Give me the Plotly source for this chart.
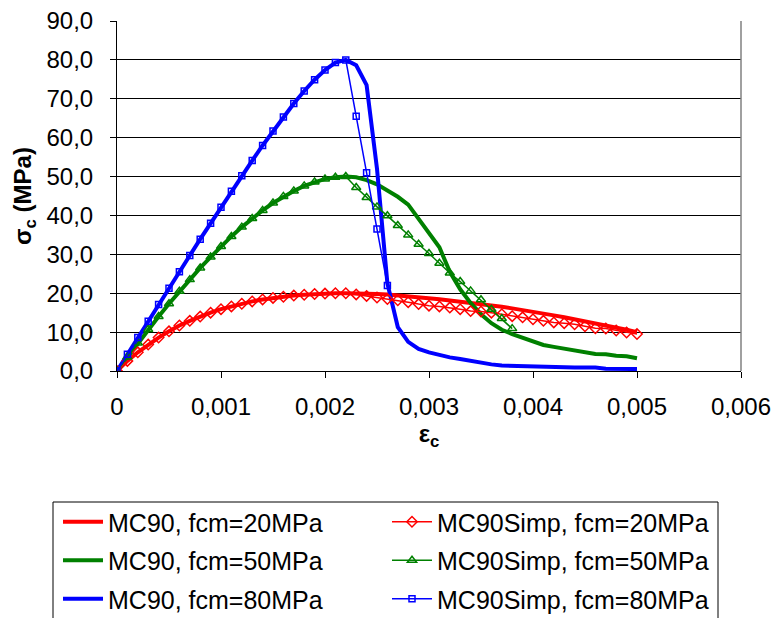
import plotly.graph_objects as go

# strain grid (0 .. 0.005, step 0.0001)
eps = [0.0, 0.0001, 0.0002, 0.0003, 0.0004, 0.0005, 0.0006, 0.0007, 0.0008, 0.0009,
       0.0010, 0.0011, 0.0012, 0.0013, 0.0014, 0.0015, 0.0016, 0.0017, 0.0018, 0.0019,
       0.0020, 0.0021, 0.0022, 0.0023, 0.0024, 0.0025, 0.0026, 0.0027, 0.0028, 0.0029,
       0.0030, 0.0031, 0.0032, 0.0033, 0.0034, 0.0035, 0.0036, 0.0037, 0.0038, 0.0039,
       0.0040, 0.0041, 0.0042, 0.0043, 0.0044, 0.0045, 0.0046, 0.0047, 0.0048, 0.0049,
       0.0050]

mc90_20 = [0, 2.6, 4.8, 6.8, 8.6, 10.2, 11.7, 12.9, 14.0, 15.0, 15.9, 16.6, 17.3, 17.9, 18.4,
           18.8, 19.1, 19.4, 19.6, 19.8, 19.9, 20.0, 20.0,
           19.98, 19.9, 19.8, 19.65, 19.45, 19.25, 19.0, 18.75, 18.45, 18.15, 17.85, 17.5,
           17.2, 16.85, 16.5, 16.1, 15.7, 15.3, 14.8, 14.3, 13.8, 13.3, 12.8, 12.3, 11.7,
           11.1, 10.6, 10.0]
simp_20 = [0, 2.6, 4.8, 6.8, 8.6, 10.2, 11.7, 12.9, 14.0, 15.0, 15.9, 16.6, 17.3, 17.9, 18.4,
           18.8, 19.1, 19.4, 19.6, 19.8, 19.9, 20.0, 20.0,
           19.7, 19.3, 18.9, 18.5, 18.2, 17.7, 17.2, 16.8, 16.6, 16.3, 15.9, 15.4, 15.3,
           15.0, 14.6, 14.1, 13.8, 13.3, 12.9, 12.5, 12.3, 12.0, 11.5, 11.0, 10.9, 10.4,
           9.9, 9.5]
mc90_50 = [0, 3.6, 7.2, 10.7, 14.0, 17.3, 20.5, 23.5, 26.5, 29.3, 32.0, 34.6, 37.0, 39.2,
           41.3, 43.2, 44.9, 46.3, 47.6, 48.6, 49.4, 49.8, 50.0,
           49.8, 49.1, 48.0, 46.5, 44.8, 42.8, 39.2, 35.5, 31.8, 25.5, 21.0, 17.5, 14.6,
           12.3, 10.6, 9.5, 8.5, 7.5, 6.7, 6.2, 5.8, 5.4, 5.0, 4.4, 4.3, 3.9, 3.8, 3.3]
simp_50 = [0, 3.6, 7.2, 10.7, 14.0, 17.3, 20.5, 23.5, 26.5, 29.3, 32.0, 34.6, 37.0, 39.2,
           41.3, 43.2, 44.9, 46.3, 47.6, 48.6, 49.4, 49.8, 50.0,
           47.2, 44.6, 42.2, 39.9, 37.4, 35.0, 32.6, 30.2, 27.7, 25.2, 23.0, 20.6, 18.3,
           15.9, 13.5, 10.9]
mc90_80 = [0, 4.3, 8.6, 12.8, 17.1, 21.3, 25.5, 29.7, 33.9, 38.0, 42.1, 46.2, 50.2, 54.1,
           58.0, 61.7, 65.3, 68.8, 72.0, 74.9, 77.4, 79.3, 80.0,
           78.6, 73.5, 52.0, 22.5, 11.3, 7.5, 5.7, 4.8, 4.1, 3.5, 3.1, 2.6, 2.1, 1.7, 1.4,
           1.3, 1.3, 1.3, 1.0, 0.9, 0.9, 0.9, 0.9, 0.9, 0.6, 0.5, 0.5, 0.5]
simp_80 = [0, 4.3, 8.6, 12.8, 17.1, 21.3, 25.5, 29.7, 33.9, 38.0, 42.1, 46.2, 50.2, 54.1,
           58.0, 61.7, 65.3, 68.8, 72.0, 74.9, 77.4, 79.3, 80.0,
           65.5, 51.0, 36.5, 22.0]

x_tickvals = [0, 0.001, 0.002, 0.003, 0.004, 0.005, 0.006]
x_ticktext = ["0", "0,001", "0,002", "0,003", "0,004", "0,005", "0,006"]

FONT = "Liberation Sans, Arial, sans-serif"
RED, GREEN, BLUE = "#FF0000", "#008000", "#0000FF"

fig = go.Figure()

solid = [("MC90, fcm=20MPa", mc90_20, RED, "g1"),
         ("MC90, fcm=50MPa", mc90_50, GREEN, "g2"),
         ("MC90, fcm=80MPa", mc90_80, BLUE, "g3")]
for name, ys, col, grp in solid:
    fig.add_trace(go.Scatter(x=eps[:len(ys)], y=ys, mode="lines", name=name,
                             line=dict(color=col, width=4), legend="legend",
                             legendgroup=grp))

simp = [("MC90Simp, fcm=20MPa", simp_20, RED, "diamond-open", 8, "h1"),
        ("MC90Simp, fcm=50MPa", simp_50, GREEN, "triangle-up-open", 8, "h2"),
        ("MC90Simp, fcm=80MPa", simp_80, BLUE, "square-open", 6, "h3")]
for name, ys, col, sym, sz, grp in simp:
    fig.add_trace(go.Scatter(x=eps[:len(ys)], y=ys, mode="lines+markers", name=name,
                             line=dict(color=col, width=1.5),
                             marker=dict(symbol=sym, size=sz, color=col,
                                         line=dict(color=col, width=1.5)),
                             legend="legend2", legendgroup=grp))

# plot-area geometry (px) used for paper coords
L, R, T, B = 117, 741, 21, 371
W, H = R - L, B - T

def px_x(p):
    return (p - L) / W

def px_y(p):
    return (B - p) / H

legend_common = dict(yanchor="top", xanchor="left", orientation="v",
                     font=dict(family=FONT, size=25, color="black"),
                     bgcolor="rgba(0,0,0,0)", borderwidth=0, traceorder="grouped",
                     tracegroupgap=3, itemwidth=40)

fig.update_layout(
    width=772, height=618,
    margin=dict(l=L, r=772 - R, t=T, b=618 - B, autoexpand=False),
    paper_bgcolor="white", plot_bgcolor="white",
    separators=", ",
    font=dict(family=FONT, color="black"),
    legend=dict(x=px_x(58), y=px_y(499), **legend_common),
    legend2=dict(x=px_x(387), y=px_y(499), **legend_common),
    xaxis=dict(range=[0, 0.006], tickvals=x_tickvals, ticktext=x_ticktext,
               showgrid=False, zeroline=False, showline=True, linecolor="black",
               linewidth=1, ticks="outside", ticklen=6, tickcolor="black",
               ticklabelstandoff=8,
               tickfont=dict(family=FONT, size=24, color="black"),
               title=dict(text="<b>ε<sub>c</sub></b>", standoff=0,
                          font=dict(family=FONT, size=24, color="black"))),
    yaxis=dict(range=[0, 90], dtick=10, tickformat=".1f",
               showgrid=True, gridcolor="black", gridwidth=1, zeroline=False,
               showline=True, linecolor="black", linewidth=1, ticks="outside",
               ticklen=6, tickcolor="black", ticklabelstandoff=12,
               tickfont=dict(family=FONT, size=24, color="black"),
               title=dict(text="<b>σ<sub>c</sub> (MPa)</b>", standoff=8,
                          font=dict(family=FONT, size=24, color="black"))),
    shapes=[
        dict(type="line", xref="paper", yref="paper", x0=1, x1=1, y0=0, y1=1,
             line=dict(color="#808080", width=1.5)),
        dict(type="rect", xref="paper", yref="paper",
             x0=px_x(53), x1=px_x(718), y0=px_y(502), y1=px_y(640),
             line=dict(color="black", width=1), fillcolor="rgba(0,0,0,0)",
             layer="below"),
    ],
)

fig.write_html("out.html")
